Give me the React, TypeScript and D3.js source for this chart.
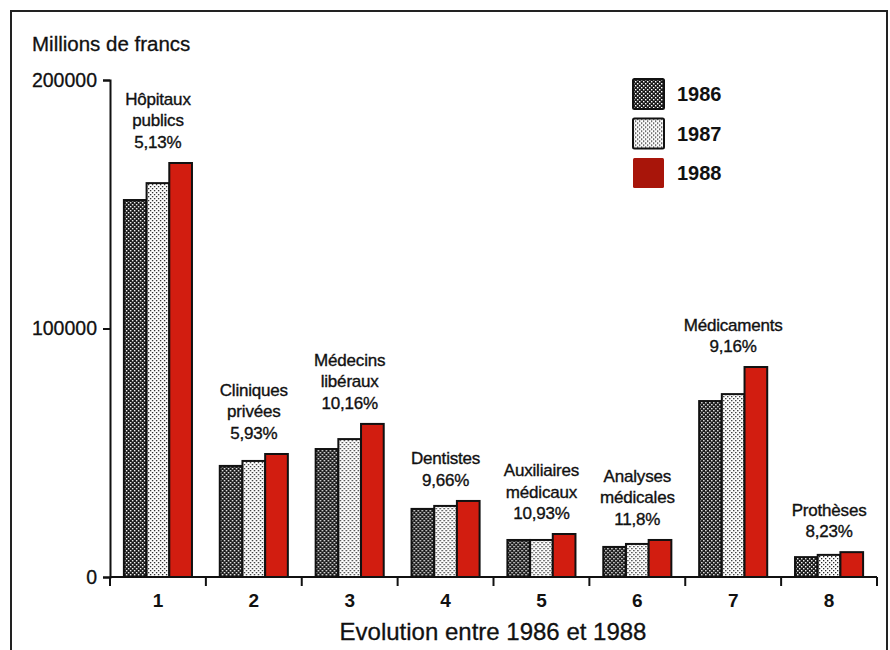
import React, { useRef, useEffect } from "react";
import * as d3 from "d3";

// categories (x tick labels) and the names written above each group
const categories = ["1", "2", "3", "4", "5", "6", "7", "8"];
const groupLabels = [
  ["Hôpitaux", "publics", "5,13%"],
  ["Cliniques", "privées", "5,93%"],
  ["Médecins", "libéraux", "10,16%"],
  ["Dentistes", "9,66%"],
  ["Auxiliaires", "médicaux", "10,93%"],
  ["Analyses", "médicales", "11,8%"],
  ["Médicaments", "9,16%"],
  ["Prothèses", "8,23%"],
];
const years = ["1986", "1987", "1988"];
const values1986 = [151700, 44700, 51500, 27400, 14900, 12100, 70800, 8000];
const values1987 = [158500, 46700, 55500, 28600, 14900, 13300, 73600, 8900];
const values1988 = [166600, 49500, 61600, 30600, 17300, 14900, 84500, 10000];
const yTicks = [0, 100000, 200000];

const W = 890;
const H = 650;
const FONT = "'Liberation Sans', Arial, sans-serif";

function App() {
  const svgRef = useRef<SVGSVGElement>(null);

  useEffect(() => {
    const svg = d3.select(svgRef.current);
    svg.selectAll("*").remove();

    // patterns for the grey bars
    const defs = svg.append("defs");
    const p86 = defs
      .append("pattern")
      .attr("id", "p1986")
      .attr("width", 4)
      .attr("height", 4)
      .attr("patternUnits", "userSpaceOnUse");
    p86.append("rect").attr("width", 4).attr("height", 4).attr("fill", "#1a1a1a");
    p86.append("rect").attr("x", 0).attr("y", 0).attr("width", 1.4).attr("height", 1.4).attr("fill", "#fff");
    p86.append("rect").attr("x", 2).attr("y", 2).attr("width", 1.4).attr("height", 1.4).attr("fill", "#fff");

    const p87 = defs
      .append("pattern")
      .attr("id", "p1987")
      .attr("width", 4)
      .attr("height", 4)
      .attr("patternUnits", "userSpaceOnUse");
    p87.append("rect").attr("width", 4).attr("height", 4).attr("fill", "#fff");
    p87.append("rect").attr("x", 0).attr("y", 0).attr("width", 1.3).attr("height", 1.3).attr("fill", "#222");
    p87.append("rect").attr("x", 2).attr("y", 2).attr("width", 1.3).attr("height", 1.3).attr("fill", "#222");

    const fills = ["url(#p1986)", "url(#p1987)", "#d21d10"];
    const series = [values1986, values1987, values1988];

    // frame
    svg
      .append("path")
      .attr("d", `M11,${H} V11 H887 V${H}`)
      .attr("fill", "none")
      .attr("stroke", "#222")
      .attr("stroke-width", 2);

    const x = d3
      .scaleBand<string>()
      .domain(categories)
      .range([110, 877])
      .paddingInner(0.29)
      .paddingOuter(0.145);
    const xInner = d3
      .scaleBand<string>()
      .domain(years)
      .range([0, x.bandwidth()]);
    const y = d3.scaleLinear().domain([0, 200000]).range([577, 80]);

    // bars
    const groups = svg
      .append("g")
      .selectAll("g")
      .data(categories)
      .join("g")
      .attr("transform", (d) => `translate(${x(d)},0)`);

    groups
      .selectAll("rect")
      .data((d, i) => years.map((yr, k) => ({ yr, k, v: series[k][i] })))
      .join("rect")
      .attr("x", (d) => xInner(d.yr)!)
      .attr("y", (d) => y(d.v))
      .attr("width", xInner.bandwidth())
      .attr("height", (d) => y(0) - y(d.v))
      .attr("fill", (d) => fills[d.k])
      .attr("stroke", "#111")
      .attr("stroke-width", 2);

    // labels above each group
    groups.each(function (d, i) {
      const g = d3.select(this);
      const top = y(Math.max(values1986[i], values1987[i], values1988[i]));
      const lines = groupLabels[i];
      lines.forEach((t, j) => {
        g.append("text")
          .attr("x", x.bandwidth() / 2)
          .attr("y", top - 15 - (lines.length - 1 - j) * 21.5)
          .attr("text-anchor", "middle")
          .attr("font-family", FONT)
          .attr("font-size", 17)
          .attr("letter-spacing", -0.2)
          .attr("fill", "#111")
          .attr("stroke", "#111")
          .attr("stroke-width", 0.35)
          .text(t);
      });
    });

    // x axis: ticks at band boundaries
    const xAxis = svg.append("g");
    xAxis
      .append("line")
      .attr("x1", 110)
      .attr("x2", 877)
      .attr("y1", y(0))
      .attr("y2", y(0))
      .attr("stroke", "#111")
      .attr("stroke-width", 2);
    const step = x.step();
    const bounds = d3.range(categories.length + 1).map((i) => 110 + i * step);
    xAxis
      .selectAll(".tick")
      .data(bounds)
      .join("line")
      .attr("x1", (d) => d)
      .attr("x2", (d) => d)
      .attr("y1", y(0))
      .attr("y2", y(0) + 9)
      .attr("stroke", "#111")
      .attr("stroke-width", 2);
    xAxis
      .selectAll(".lbl")
      .data(categories)
      .join("text")
      .attr("x", (d) => x(d)! + x.bandwidth() / 2)
      .attr("y", 607)
      .attr("text-anchor", "middle")
      .attr("font-family", FONT)
      .attr("font-weight", "bold")
      .attr("font-size", 19)
      .attr("fill", "#111")
      .text((d) => d);

    // y axis
    const yAxis = d3
      .axisLeft(y)
      .tickValues(yTicks)
      .tickSize(7)
      .tickFormat((d) => String(d));
    const yg = svg.append("g").attr("transform", "translate(110,0)").call(yAxis);
    yg.select(".domain").attr("stroke", "#111").attr("stroke-width", 2);
    yg.selectAll(".tick line").attr("stroke", "#111").attr("stroke-width", 2);
    yg.selectAll(".tick text")
      .attr("font-family", FONT)
      .attr("font-size", 19.5)
      .attr("fill", "#111")
      .attr("stroke", "#111")
      .attr("stroke-width", 0.3)
      .attr("x", -13);

    // titles
    svg
      .append("text")
      .attr("x", 32)
      .attr("y", 51)
      .attr("font-family", FONT)
      .attr("font-size", 20.5)
      .attr("fill", "#111")
      .attr("stroke", "#111")
      .attr("stroke-width", 0.3)
      .text("Millions de francs");
    svg
      .append("text")
      .attr("x", 493)
      .attr("y", 640)
      .attr("text-anchor", "middle")
      .attr("font-family", FONT)
      .attr("font-size", 24)
      .attr("fill", "#111")
      .attr("stroke", "#111")
      .attr("stroke-width", 0.3)
      .text("Evolution entre 1986 et 1988");

    // legend
    const legend = svg
      .append("g")
      .selectAll("g")
      .data(years)
      .join("g")
      .attr("transform", (d, i) => `translate(633,${79 + i * 39.5})`);
    legend
      .append("rect")
      .attr("width", 31)
      .attr("height", 30)
      .attr("fill", (d, i) => (i === 2 ? "#a8150a" : fills[i]))
      .attr("stroke", (d, i) => (i === 2 ? "none" : "#111"))
      .attr("stroke-width", 2)
      .attr("rx", 1.5);
    legend
      .append("text")
      .attr("x", 44)
      .attr("y", 22)
      .attr("font-family", FONT)
      .attr("font-weight", "bold")
      .attr("font-size", 20)
      .attr("fill", "#111")
      .text((d) => d);
  }, []);

  return (
    <svg
      ref={svgRef}
      width={W}
      height={H}
      style={{ position: "absolute", left: 0, top: 0, background: "#fff" }}
    />
  );
}

export default App;
